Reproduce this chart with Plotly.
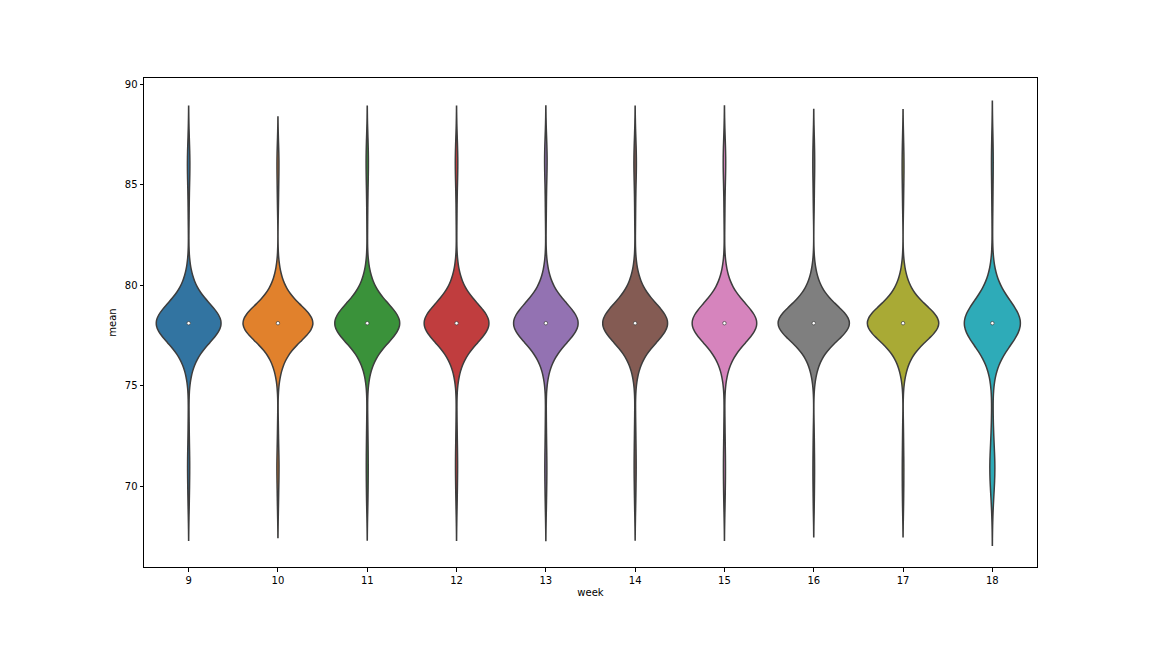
import numpy as np
import plotly.graph_objects as go

weeks = ["9", "10", "11", "12", "13", "14", "15", "16", "17", "18"]
colors = ["#3274a1", "#e1812c", "#3a923a", "#c03d3e", "#9372b2",
          "#845b53", "#d684bd", "#7f7f7f", "#a9aa35", "#2eabb8"]

# central cluster (value, count) shared by every week
main_values = [75.9, 76.6, 77.2, 77.7, 78.1, 78.5, 79.0, 79.6, 80.3]
main_counts = [4, 8, 12, 18, 60, 18, 12, 8, 4]

# outlying weekly means, per week
upper_tail = {
    "9":  [83.2, 84.5, 85.3, 85.9, 86.1, 86.4, 87.2],
    "10": [84.0, 85.0, 85.8, 86.2, 86.8],
    "11": [83.0, 84.4, 85.2, 85.8, 86.2, 86.6, 87.2],
    "12": [83.2, 84.6, 85.4, 85.9, 86.2, 86.5, 87.2],
    "13": [83.4, 84.6, 85.5, 86.0, 86.3, 86.6, 87.2],
    "14": [83.2, 84.5, 85.4, 85.9, 86.2, 86.5, 87.2],
    "15": [83.3, 84.6, 85.5, 85.9, 86.2, 86.6, 87.2],
    "16": [84.0, 85.2, 85.9, 86.4, 87.2],
    "17": [84.0, 85.1, 85.8, 86.3, 87.2],
    "18": [83.4, 84.6, 85.5, 86.1, 86.6, 87.2],
}
lower_tail = {
    "9":  [69.0, 69.8, 70.6, 71.0, 71.4, 72.2, 73.4],
    "10": [69.0, 70.0, 70.7, 71.1, 71.6, 72.8],
    "11": [69.0, 69.8, 70.5, 71.1, 71.6, 72.4, 73.4],
    "12": [69.0, 69.9, 70.6, 71.1, 71.5, 72.3, 73.4],
    "13": [69.0, 69.8, 70.6, 71.0, 71.5, 72.4, 73.5],
    "14": [69.0, 69.9, 70.6, 71.1, 71.6, 72.4, 73.4],
    "15": [69.0, 69.8, 70.5, 71.0, 71.5, 72.3, 73.4],
    "16": [69.0, 70.1, 70.8, 71.5, 72.6],
    "17": [69.0, 70.0, 70.8, 71.5, 72.7],
    "18": [69.0, 69.6, 70.0, 70.3, 70.5, 70.7, 70.8, 70.9, 71.0, 71.2,
           71.4, 71.7, 72.1, 72.6, 73.2, 74.0],
}

main = np.repeat(main_values, main_counts)

fig = go.Figure()
medians = []
for w, c in zip(weeks, colors):
    vals = np.concatenate([main, upper_tail[w], lower_tail[w]])
    n = len(vals)
    bw = np.std(vals, ddof=1) * n ** (-1 / 5)  # Scott's rule, as seaborn
    medians.append(float(np.median(vals)))
    fig.add_trace(go.Violin(
        x=[w] * n, y=vals, name=w, bandwidth=bw, spanmode="soft",
        scalegroup="all", scalemode="width",
        points=False, box_visible=False, meanline_visible=False,
        fillcolor=c, line=dict(color="#3d3d3d", width=1.5),
        opacity=1, showlegend=False, hoverinfo="skip",
    ))

fig.add_trace(go.Scatter(
    x=weeks, y=medians, mode="markers", showlegend=False, hoverinfo="skip",
    marker=dict(color="white", size=3.5, line=dict(color="#3d3d3d", width=0.7)),
))

axis_common = dict(
    showline=True, linecolor="black", linewidth=1, mirror=True,
    ticks="outside", ticklen=3.5, tickcolor="black", tickwidth=1,
    showgrid=False, zeroline=False,
    tickfont=dict(family="DejaVu Sans", size=10, color="black"),
)
fig.update_layout(
    width=1152, height=648,
    margin=dict(l=144, r=115, t=78, b=81),
    plot_bgcolor="white", paper_bgcolor="white",
    violinmode="overlay", violingap=0.2, violingroupgap=0,
    xaxis=dict(type="category", categoryorder="array", categoryarray=weeks,
               range=[-0.5, 9.5],
               title=dict(text="week", font=dict(family="DejaVu Sans", size=10, color="black"),
                          standoff=4),
               **axis_common),
    yaxis=dict(range=[65.97, 90.3], tickvals=[70, 75, 80, 85, 90],
               title=dict(text="mean", font=dict(family="DejaVu Sans", size=10, color="black"),
                          standoff=6),
               **axis_common),
)

fig.write_html("out.html")
